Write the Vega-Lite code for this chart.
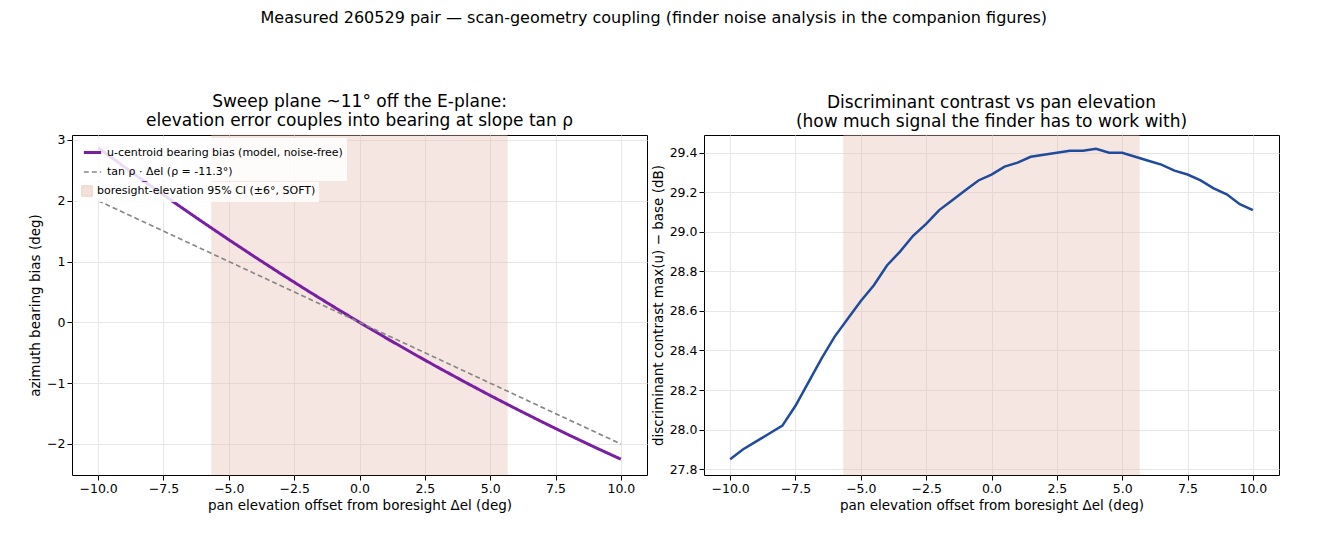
{
  "$schema": "https://vega.github.io/schema/vega-lite/v6.json",
  "title": {"text": "Measured 260529 pair — scan-geometry coupling (finder noise analysis in the companion figures)", "fontSize": 16, "fontWeight": "normal", "offset": 66, "anchor": "middle"},
  "padding": {"left": 28, "top": 10, "right": 16, "bottom": 10},
  "spacing": 2,
  "config": {
    "font": "DejaVu Sans",
    "view": {"stroke": "black"},
    "axis": {"grid": true, "gridColor": "#e6e6e6", "domain": false, "tickColor": "black", "labelFontSize": 12.5, "titleFontSize": 13.5, "titleFontWeight": "normal", "labelColor": "black", "titleColor": "black"},
    "title": {"fontWeight": "normal", "fontSize": 17}
  },
  "datasets": {
    "bias": [
      {"x": -10, "y": 2.87, "series": "u-centroid bearing bias (model, noise-free)"},
      {"x": -9, "y": 2.555, "series": "u-centroid bearing bias (model, noise-free)"},
      {"x": -8, "y": 2.246, "series": "u-centroid bearing bias (model, noise-free)"},
      {"x": -7, "y": 1.944, "series": "u-centroid bearing bias (model, noise-free)"},
      {"x": -6, "y": 1.648, "series": "u-centroid bearing bias (model, noise-free)"},
      {"x": -5, "y": 1.358, "series": "u-centroid bearing bias (model, noise-free)"},
      {"x": -4, "y": 1.074, "series": "u-centroid bearing bias (model, noise-free)"},
      {"x": -3, "y": 0.796, "series": "u-centroid bearing bias (model, noise-free)"},
      {"x": -2, "y": 0.524, "series": "u-centroid bearing bias (model, noise-free)"},
      {"x": -1, "y": 0.259, "series": "u-centroid bearing bias (model, noise-free)"},
      {"x": 0, "y": 0, "series": "u-centroid bearing bias (model, noise-free)"},
      {"x": 1, "y": -0.253, "series": "u-centroid bearing bias (model, noise-free)"},
      {"x": 2, "y": -0.5, "series": "u-centroid bearing bias (model, noise-free)"},
      {"x": 3, "y": -0.74, "series": "u-centroid bearing bias (model, noise-free)"},
      {"x": 4, "y": -0.974, "series": "u-centroid bearing bias (model, noise-free)"},
      {"x": 5, "y": -1.203, "series": "u-centroid bearing bias (model, noise-free)"},
      {"x": 6, "y": -1.424, "series": "u-centroid bearing bias (model, noise-free)"},
      {"x": 7, "y": -1.64, "series": "u-centroid bearing bias (model, noise-free)"},
      {"x": 8, "y": -1.85, "series": "u-centroid bearing bias (model, noise-free)"},
      {"x": 9, "y": -2.053, "series": "u-centroid bearing bias (model, noise-free)"},
      {"x": 10, "y": -2.25, "series": "u-centroid bearing bias (model, noise-free)"},
      {"x": -10, "y": 2.0, "series": "tan ρ · Δel  (ρ = -11.3°)"},
      {"x": 10, "y": -2.0, "series": "tan ρ · Δel  (ρ = -11.3°)"}
    ],
    "band": [{"lo": -5.66, "hi": 5.66, "label": "boresight-elevation 95% CI (±6°, SOFT)"}],
    "contrast": [
      {"x": -10, "y": 27.85}, {"x": -9.5, "y": 27.9}, {"x": -9, "y": 27.94}, {"x": -8.5, "y": 27.98},
      {"x": -8, "y": 28.02}, {"x": -7.5, "y": 28.12}, {"x": -7, "y": 28.24}, {"x": -6.5, "y": 28.36},
      {"x": -6, "y": 28.47}, {"x": -5.5, "y": 28.56}, {"x": -5, "y": 28.65}, {"x": -4.5, "y": 28.73},
      {"x": -4, "y": 28.83}, {"x": -3.5, "y": 28.9}, {"x": -3, "y": 28.98}, {"x": -2.5, "y": 29.04},
      {"x": -2, "y": 29.11}, {"x": -1.5, "y": 29.16}, {"x": -1, "y": 29.21}, {"x": -0.5, "y": 29.26},
      {"x": 0, "y": 29.29}, {"x": 0.5, "y": 29.33}, {"x": 1, "y": 29.35}, {"x": 1.5, "y": 29.38},
      {"x": 2, "y": 29.39}, {"x": 2.5, "y": 29.4}, {"x": 3, "y": 29.41}, {"x": 3.5, "y": 29.41},
      {"x": 4, "y": 29.42}, {"x": 4.5, "y": 29.4}, {"x": 5, "y": 29.4}, {"x": 5.5, "y": 29.38},
      {"x": 6, "y": 29.36}, {"x": 6.5, "y": 29.34}, {"x": 7, "y": 29.31}, {"x": 7.5, "y": 29.29},
      {"x": 8, "y": 29.26}, {"x": 8.5, "y": 29.22}, {"x": 9, "y": 29.19}, {"x": 9.5, "y": 29.14},
      {"x": 10, "y": 29.11}
    ]
  },
  "hconcat": [
    {
      "width": 575, "height": 340,
      "title": {"text": ["Sweep plane ~11° off the E-plane:", "elevation error couples into bearing at slope tan ρ"]},
      "layer": [
        {
          "data": {"name": "band"},
          "mark": {"type": "rect", "opacity": 0.4, "stroke": "#e0a590", "strokeOpacity": 0.3},
          "encoding": {
            "x": {"field": "lo", "type": "quantitative", "scale": {"domain": [-11, 11], "nice": false}},
            "x2": {"field": "hi"},
            "fill": {"field": "label", "type": "nominal", "scale": {"range": ["#e9c3b5"]},
              "legend": {"title": null, "orient": "none", "legendX": 6, "legendY": 47, "symbolType": "square", "labelFontSize": 11, "labelLimit": 400, "symbolSize": 110, "symbolOpacity": 0.5, "symbolStrokeColor": "#e0a590", "symbolStrokeWidth": 1, "fillColor": "rgba(255,255,255,0.85)", "padding": 3}}
          }
        },
        {
          "data": {"name": "bias"},
          "mark": {"type": "line", "clip": true},
          "encoding": {
            "x": {"field": "x", "type": "quantitative", "title": "pan elevation offset from boresight Δel (deg)",
              "scale": {"domain": [-11, 11], "nice": false},
              "axis": {"values": [-10, -7.5, -5, -2.5, 0, 2.5, 5, 7.5, 10], "format": ".1f"}},
            "y": {"field": "y", "type": "quantitative", "title": "azimuth bearing bias (deg)",
              "scale": {"domain": [-2.51, 3.08], "nice": false, "zero": false},
              "axis": {"values": [-2, -1, 0, 1, 2, 3]}},
            "color": {"field": "series", "type": "nominal",
              "scale": {"domain": ["u-centroid bearing bias (model, noise-free)", "tan ρ · Δel  (ρ = -11.3°)"], "range": ["#7b1fa2", "#888888"]},
              "legend": {"title": null, "orient": "none", "legendX": 6, "legendY": 3, "labelFontSize": 11, "labelLimit": 400, "symbolType": "stroke", "symbolSize": 300, "symbolStrokeWidth": 2.5, "fillColor": "rgba(255,255,255,0.85)", "padding": 4, "rowPadding": 3}},
            "strokeDash": {"field": "series", "type": "nominal",
              "scale": {"domain": ["u-centroid bearing bias (model, noise-free)", "tan ρ · Δel  (ρ = -11.3°)"], "range": [[1, 0], [5, 3]]}, "legend": null},
            "strokeWidth": {"field": "series", "type": "nominal",
              "scale": {"domain": ["u-centroid bearing bias (model, noise-free)", "tan ρ · Δel  (ρ = -11.3°)"], "range": [3, 1.7]}, "legend": null}
          }
        }
      ],
      "resolve": {"legend": {"fill": "independent"}}
    },
    {
      "width": 575, "height": 340,
      "title": {"text": ["Discriminant contrast vs pan elevation", "(how much signal the finder has to work with)"]},
      "layer": [
        {
          "data": {"name": "band"},
          "mark": {"type": "rect", "fill": "#e9c3b5", "opacity": 0.4, "stroke": "#e0a590", "strokeOpacity": 0.3},
          "encoding": {
            "x": {"field": "lo", "type": "quantitative", "scale": {"domain": [-11, 11], "nice": false}},
            "x2": {"field": "hi"}
          }
        },
        {
          "data": {"name": "contrast"},
          "mark": {"type": "line", "color": "#1f4b9c", "strokeWidth": 2.5},
          "encoding": {
            "x": {"field": "x", "type": "quantitative", "title": "pan elevation offset from boresight Δel (deg)",
              "scale": {"domain": [-11, 11], "nice": false},
              "axis": {"values": [-10, -7.5, -5, -2.5, 0, 2.5, 5, 7.5, 10], "format": ".1f"}},
            "y": {"field": "y", "type": "quantitative", "title": "discriminant contrast max(u) − base (dB)",
              "scale": {"domain": [27.77, 29.49], "nice": false, "zero": false},
              "axis": {"values": [27.8, 28.0, 28.2, 28.4, 28.6, 28.8, 29.0, 29.2, 29.4], "format": ".1f"}}
          }
        }
      ]
    }
  ]
}
